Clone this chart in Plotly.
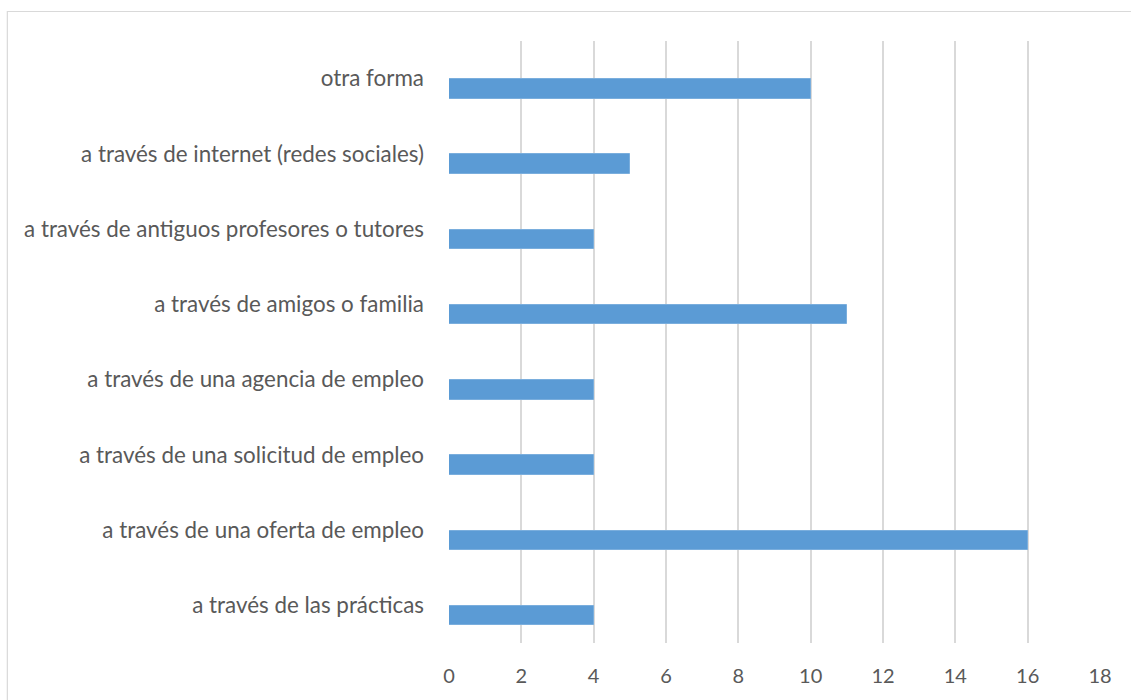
import plotly.graph_objects as go

# Channels, listed bottom to top as they appear on the axis
categories = [
    "a través de las prácticas",
    "a través de una oferta de empleo",
    "a través de una solicitud de empleo",
    "a través de una agencia de empleo",
    "a través de amigos o familia",
    "a través de antiguos profesores o tutores",
    "a través de internet (redes sociales)",
    "otra forma",
]
counts = [4, 16, 4, 4, 11, 4, 5, 10]
x_ticks = list(range(0, 20, 2))

W, H = 1131, 700
L, R, T, B = 449, 30.5, 41, 57
pw, ph = W - L - R, H - T - B

fig = go.Figure(
    go.Bar(
        x=counts,
        y=categories,
        orientation="h",
        width=0.26,
        offset=-0.265,
        marker=dict(color="#5B9BD5", line=dict(color="#7AAEDD", width=1)),
        hoverinfo="x+y",
    )
)

fig.update_layout(
    width=W,
    height=H,
    margin=dict(l=L, r=R, t=T, b=B),
    paper_bgcolor="white",
    plot_bgcolor="white",
    showlegend=False,
    font=dict(family="Lato, Calibri, sans-serif", color="#595959", size=20),
    bargap=0,
)

fig.update_xaxes(
    range=[0, 18],
    tickvals=x_ticks,
    showgrid=True,
    gridcolor="#D9D9D9",
    gridwidth=1.5,
    zeroline=False,
    showline=False,
    ticks="",
    ticklabelstandoff=19,
    tickfont=dict(size=20, color="#595959"),
)

fig.update_yaxes(
    categoryorder="array",
    categoryarray=categories,
    range=[-0.5, len(categories) - 0.5],
    showgrid=False,
    zeroline=False,
    showline=False,
    ticks="",
    ticklabelstandoff=24,
    tickfont=dict(size=22.4, color="#595959"),
)

# Chart-area frame (extends past the right and bottom edges)
fig.add_shape(
    type="rect",
    xref="paper",
    yref="paper",
    x0=(7 - L) / pw,
    x1=(W + 10 - L) / pw,
    y0=(H - B - (H + 10)) / ph,
    y1=(H - B - 11.5) / ph,
    line=dict(color="#D9D9D9", width=1.2),
    fillcolor="rgba(0,0,0,0)",
    layer="below",
)

fig.write_html("out.html")
